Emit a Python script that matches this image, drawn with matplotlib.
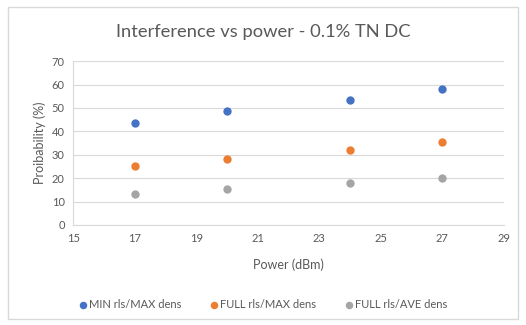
import matplotlib.pyplot as plt
from matplotlib.patches import Rectangle

power = [17, 20, 24, 27]
min_max = [43.5, 48.7, 53.3, 58.0]
full_max = [25.3, 28.1, 32.1, 35.6]
full_ave = [13.0, 15.5, 17.8, 20.1]
labels = ['MIN rls/MAX dens', 'FULL rls/MAX dens', 'FULL rls/AVE dens']
colors = ['#4472C4', '#ED7D31', '#A5A5A5']

plt.rcParams['font.family'] = ['Lato', 'DejaVu Sans']
txt = '#595959'
grid = '#D9D9D9'

fig = plt.figure(figsize=(5.26, 3.25), dpi=100)
fig.patches.append(Rectangle((0.015, 0.02), 0.97, 0.96, transform=fig.transFigure,
                             fill=False, edgecolor=grid, linewidth=1))
ax = fig.add_axes([0.139, 0.308, 0.819, 0.504])

for ys, lab, c in zip([min_max, full_max, full_ave], labels, colors):
    ax.scatter(power, ys, s=36, color=c, label=lab, zorder=3, linewidths=0)

ax.set_xlim(15, 29)
ax.set_ylim(0, 70)
ax.set_xticks(range(15, 30, 2))
ax.set_yticks(range(0, 71, 10))
ax.grid(axis='y', color=grid, linewidth=0.8)
ax.set_axisbelow(True)
for s in ['top', 'right']:
    ax.spines[s].set_visible(False)
for s in ['left', 'bottom']:
    ax.spines[s].set_color(grid)
ax.tick_params(length=0, colors=txt, labelsize=8, pad=6)

ax.set_xlabel('Power (dBm)', color=txt, fontsize=9, labelpad=10)
ax.set_ylabel('Proibability (%)', color=txt, fontsize=9, labelpad=4)
fig.suptitle('Interference vs power - 0.1% TN DC', color=txt, fontsize=13.2, y=0.925)

fig.legend(loc='center', bbox_to_anchor=(0.5, 0.063), ncol=3, frameon=False,
           fontsize=8, labelcolor=txt, handlelength=0.7, handletextpad=0.2,
           columnspacing=2.6, markerscale=0.9)

fig.savefig('out.png', dpi=100)
